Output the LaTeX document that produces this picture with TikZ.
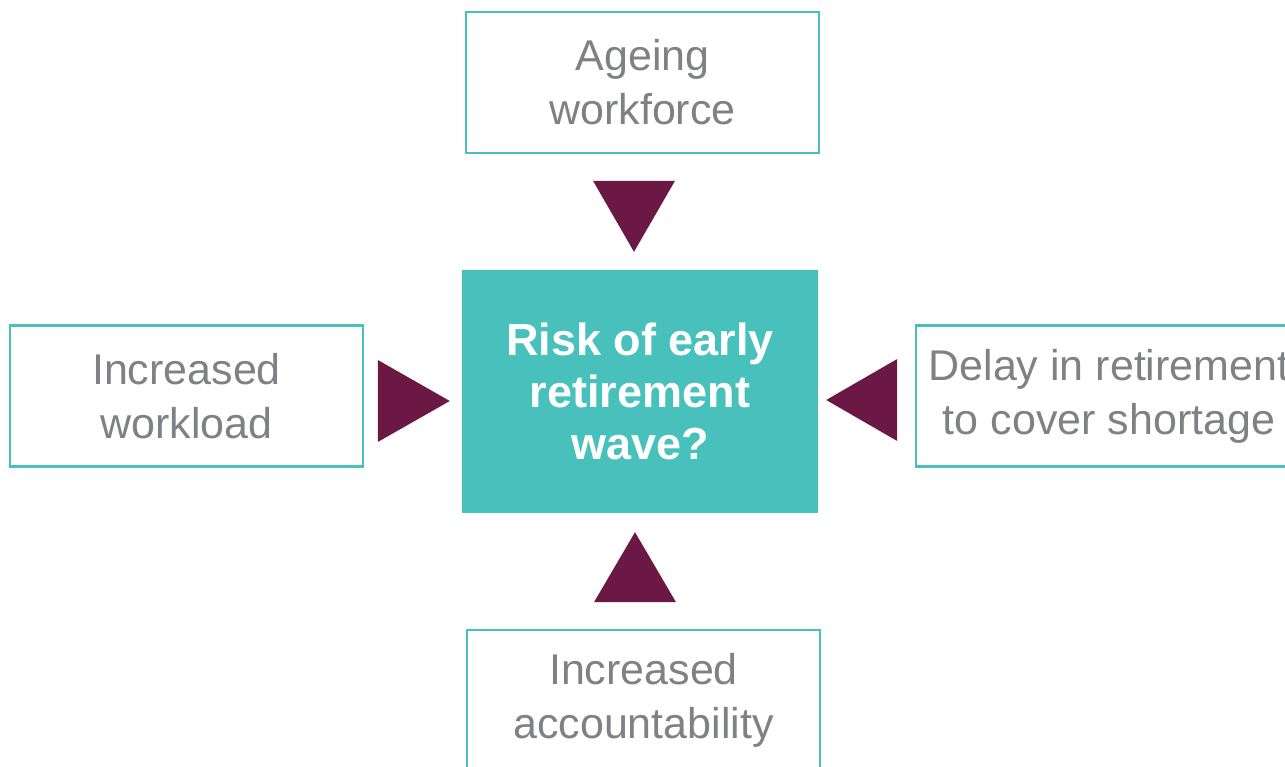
\documentclass[tikz,border=0pt]{standalone}
\usepackage{fontspec}
\setmainfont{Liberation Sans}
\usetikzlibrary{calc}
\definecolor{riskteal}{HTML}{48C0BC}
\definecolor{riskmaroon}{HTML}{6B1944}
\definecolor{causegrey}{HTML}{808185}

\begin{document}
\begin{tikzpicture}[x=1pt, y=1pt,
  cause/.style={draw=riskteal, line width=2.5pt, fill=white, text=causegrey,
    align=center, inner sep=0pt, minimum width=353pt, minimum height=141pt,
    font=\fontsize{43}{54}\selectfont},
  pointer/.style={fill=riskmaroon}]
  \useasboundingbox (0,0) rectangle (1285,766);
  \clip (0,0) rectangle (1285,766);
  % the question in the middle
  \node[fill=riskteal, text=white, align=center, inner sep=0pt,
    minimum width=356pt, minimum height=243pt,
    font=\bfseries\fontsize{45}{52}\selectfont] (risk) at (640,374.5)
    {Risk of early\\retirement\\wave?};
  % the four causes
  \node[cause] (ageing) at (642.5,683.5) {Ageing\\workforce};
  \node[cause] (workload) at (186.5,370) {Increased\\workload};
  \node[cause, minimum width=386pt] (delay) at (1109,370) {Delay in retirement\\to cover shortage};
  \node[cause] (account) at (643.5,65.5) {Increased\\accountability};
  % pointers onto the middle box
  \fill[pointer] ($(risk.north)+(-6,18)$) -- ++(-41,71) -- ++(82,0) -- cycle;
  \fill[pointer] ($(risk.west)+(-12,-9.5)$) -- ++(-72,41) -- ++(0,-82) -- cycle;
  \fill[pointer] ($(risk.east)+(8,-8.5)$) -- ++(71,41) -- ++(0,-82) -- cycle;
  \fill[pointer] ($(risk.south)+(-5,-19)$) -- ++(-41,-70) -- ++(82,0) -- cycle;
\end{tikzpicture}
\end{document}
